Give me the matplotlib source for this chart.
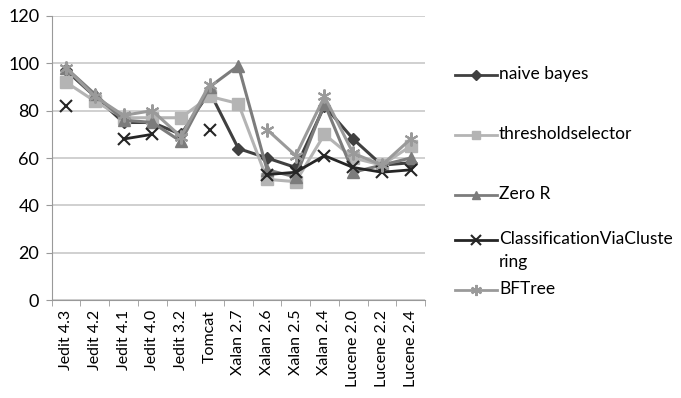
import matplotlib.pyplot as plt
from matplotlib.lines import Line2D
import numpy as np

plt.rcParams['font.family'] = ['Lato', 'DejaVu Sans']

projects = ['Jedit 4.3', 'Jedit 4.2', 'Jedit 4.1', 'Jedit 4.0', 'Jedit 3.2', 'Tomcat',
            'Xalan 2.7', 'Xalan 2.6', 'Xalan 2.5', 'Xalan 2.4', 'Lucene 2.0',
            'Lucene 2.2', 'Lucene 2.4']

naive_bayes = [97, 86, 75, 75, 70, 88, 64, 60, 56, 82, 68, 57, 58]
threshold_selector = [92, 84, 77, 77, 77, 86, 83, 51, 50, 70, 60, 57, 65]
zero_r = [98, 87, 76, 75, 67, 90, 99, 55, 52, 83, 54, 57, 60]
class_via_clustering = [82, np.nan, 68, 70, np.nan, 72, np.nan, 53, 54, 61, 56, 54, 55]
bf_tree = [98, 86, 78, 80, 69, 91, np.nan, 72, 61, 86, 62, 57, 68]

W, H = 681, 398
fig = plt.figure(figsize=(W / 100, H / 100), dpi=100)
ax = fig.add_axes([0.076, 0.246, 0.548, 0.714])

x = np.arange(len(projects))
styles = [
    ('naive bayes', naive_bayes, dict(color='#404040', marker='D', markersize=6, lw=2.2)),
    ('thresholdselector', threshold_selector, dict(color='#b4b4b4', marker='s', markersize=8, lw=2.2)),
    ('Zero R', zero_r, dict(color='#7c7c7c', marker='^', markersize=8, lw=2.2)),
    ('ClassificationViaCluste\nring', class_via_clustering,
     dict(color='#252525', marker='x', markersize=9, mew=1.5, lw=2.0)),
    ('BFTree', bf_tree, dict(color='#9a9a9a', marker=(6, 2, 0), markersize=10, mew=1.5, lw=2.2)),
]
for label, vals, kw in styles:
    ax.plot(x, vals, label=label, **kw)

ax.set_xlim(-0.5, len(projects) - 0.5)
ax.set_ylim(0, 120)
ax.set_yticks(range(0, 121, 20))
ax.set_xticks(x)
ax.set_xticklabels(projects, rotation=90, fontsize=11.5)
ax.set_xticks(np.arange(-0.5, len(projects), 1), minor=True)
ax.tick_params(axis='x', which='major', length=0, pad=7)
ax.tick_params(axis='x', which='minor', length=4, color='#999999')
ax.tick_params(axis='y', length=4, color='#999999', labelsize=13, pad=5)

ax.yaxis.grid(True, color='#c8c8c8', lw=1.2)
ax.set_axisbelow(True)
for s in ['top', 'right']:
    ax.spines[s].set_visible(False)
for s in ['left', 'bottom']:
    ax.spines[s].set_color('#999999')

# Excel-like legend, drawn by hand (first line of each label aligned with its key)
legend_y = [75, 135, 195, 240, 290]
x0, x1 = 455, 497
for (label, vals, kw), yp in zip(styles, legend_y):
    yf = 1 - yp / H
    kw2 = dict(kw)
    kw2['markersize'] = kw['markersize'] * 0.8
    kw2['lw'] = 2.0
    fig.add_artist(Line2D([x0 / W, x1 / W], [yf, yf], transform=fig.transFigure,
                          color=kw['color'], lw=2.0))
    fig.add_artist(Line2D([(x0 + x1) / 2 / W], [yf], transform=fig.transFigure,
                          color=kw['color'], marker=kw['marker'],
                          markersize=kw['markersize'] * 0.8, mew=kw.get('mew', 1.0)))
    fig.text((x1 + 2) / W, yf + 9 / H, label, fontsize=12.5, va='top', ha='left',
             linespacing=1.5)

fig.savefig('out.png', dpi=100)
